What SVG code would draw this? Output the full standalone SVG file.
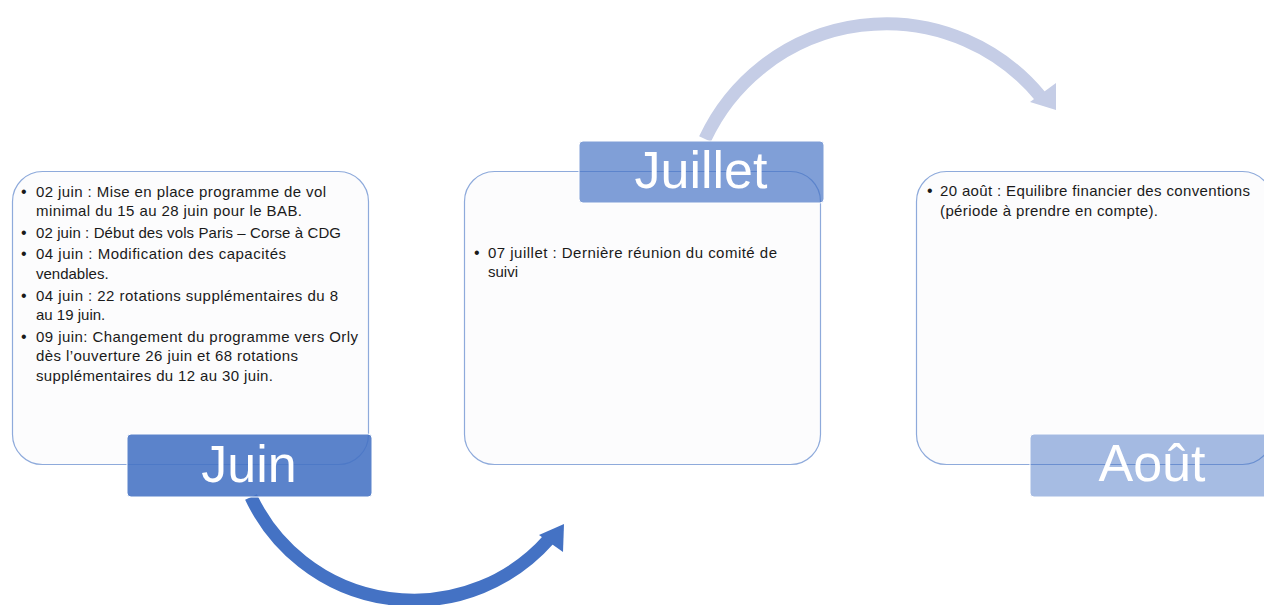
<svg xmlns="http://www.w3.org/2000/svg" width="1264" height="605" viewBox="0 0 1264 605">
<style>
.box{fill:#fcfcfd;stroke:#8eaadb;stroke-width:1.2}
.lbl{stroke:#ffffff;stroke-width:1}
.lt{font-family:"Liberation Sans",Arial,sans-serif;font-size:52px;fill:#ffffff;text-anchor:middle}
.t{font-family:"Liberation Sans",Arial,sans-serif;font-size:15px;fill:#1a1a1a}
.b{font-family:"Liberation Sans",Arial,sans-serif;font-size:16px;fill:#1a1a1a}
.arc{fill:none;stroke-width:13}
</style>
<rect width="1264" height="605" fill="#ffffff"/>
<g id="connectors">
<path class="arc" d="M 251 497 A 180 180 0 0 0 549 539" stroke="#4472c4"/>
<polygon points="539,535 564,524 563,552" fill="#4472c4"/>
<path class="arc" d="M 705 139 A 200 200 0 0 1 1040 96" stroke="#c5cde6"/>
<polygon points="1030,102 1056,83 1056,110" fill="#c5cde6"/>
</g>
<g id="node-juin">
<rect class="box" x="12.5" y="171.5" width="356" height="293" rx="30"/>
<text class="b" x="21" y="197">•</text>
<text class="t" x="36" y="197" textLength="290" lengthAdjust="spacing">02 juin : Mise en place programme de vol</text>
<text class="t" x="36" y="216" textLength="266" lengthAdjust="spacing">minimal du 15 au 28 juin pour le BAB.</text>
<text class="b" x="21" y="238">•</text>
<text class="t" x="36" y="238" textLength="305" lengthAdjust="spacing">02 juin : Début des vols Paris – Corse à CDG</text>
<text class="b" x="21" y="259">•</text>
<text class="t" x="36" y="259" textLength="250" lengthAdjust="spacing">04 juin : Modification des capacités</text>
<text class="t" x="36" y="279">vendables.</text>
<text class="b" x="21" y="301">•</text>
<text class="t" x="36" y="301" textLength="302" lengthAdjust="spacing">04 juin : 22 rotations supplémentaires du 8</text>
<text class="t" x="36" y="320">au 19 juin.</text>
<text class="b" x="21" y="342">•</text>
<text class="t" x="36" y="342" textLength="322" lengthAdjust="spacing">09 juin: Changement du programme vers Orly</text>
<text class="t" x="36" y="361" textLength="262" lengthAdjust="spacing">dès l’ouverture 26 juin et 68 rotations</text>
<text class="t" x="36" y="381" textLength="237" lengthAdjust="spacing">supplémentaires du 12 au 30 juin.</text>
<rect class="lbl" x="127" y="434" width="245" height="63" rx="4" fill="#4472c4" fill-opacity="0.88"/>
<text class="lt" x="249" y="482">Juin</text>
</g>
<g id="node-juillet">
<rect class="box" x="464.5" y="171.5" width="356" height="293" rx="30"/>
<text class="b" x="474" y="258">•</text>
<text class="t" x="488" y="258" textLength="289" lengthAdjust="spacing">07 juillet : Dernière réunion du comité de</text>
<text class="t" x="488" y="277">suivi</text>
<rect class="lbl" x="579" y="141" width="245" height="62" rx="4" fill="#4472c4" fill-opacity="0.68"/>
<text class="lt" x="701" y="188">Juillet</text>
</g>
<g id="node-aout">
<rect class="box" x="916.5" y="171.5" width="356" height="293" rx="30"/>
<text class="b" x="927" y="196">•</text>
<text class="t" x="940" y="196" textLength="310" lengthAdjust="spacing">20 août : Equilibre financier des conventions</text>
<text class="t" x="940" y="216" textLength="218" lengthAdjust="spacing">(période à prendre en compte).</text>
<rect class="lbl" x="1030" y="434" width="245" height="63" rx="4" fill="#4472c4" fill-opacity="0.48"/>
<text class="lt" x="1152" y="481">Août</text>
</g>
</svg>
